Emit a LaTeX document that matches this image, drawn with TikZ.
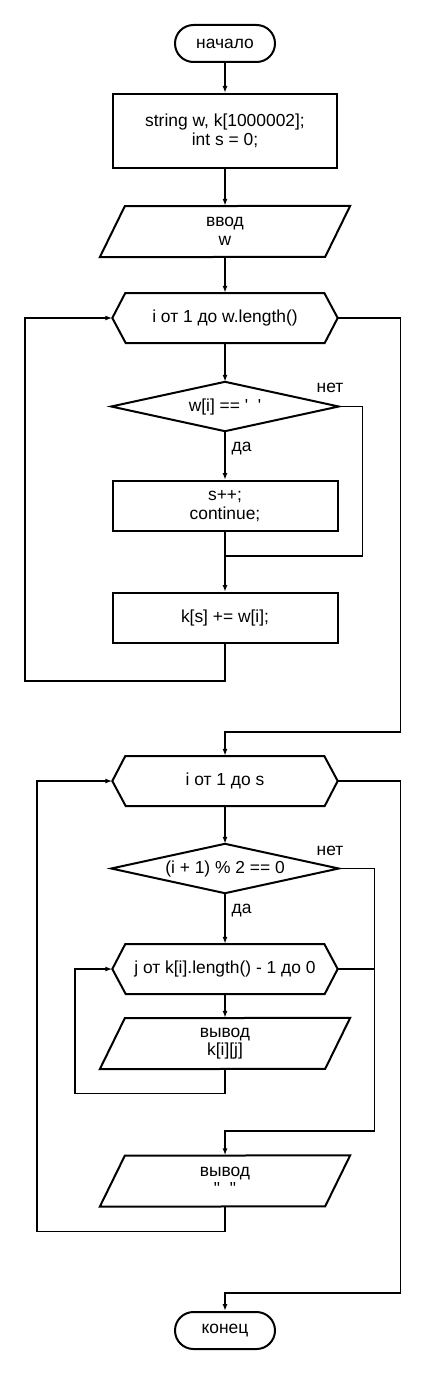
\documentclass[tikz,border=0pt]{standalone}
\usepackage{fontspec}
\setmainfont{Liberation Sans}
\usepackage{tikz}
\usetikzlibrary{arrows.meta}

\tikzset{
  txt/.style={font=\fontsize{17.4}{18.5}\selectfont, align=center, inner sep=0pt},
  term/.style={txt, draw, line width=2pt, rounded corners=18.5pt,
    minimum width=100pt, minimum height=37pt},
  proc/.style={txt, draw, line width=2pt, minimum width=225pt, minimum height=50pt},
  io/.style={txt, minimum width=250pt, minimum height=51pt},
  lim/.style={txt, minimum width=225pt, minimum height=50pt},
  cond/.style={txt, minimum width=227pt, minimum height=49pt},
  shapeline/.style={line width=2pt, line join=miter},
  flow/.style={line width=1.4pt, -{Latex[length=7pt,width=5pt]}},
  link/.style={line width=1.4pt},
  lbl/.style={font=\fontsize{17.4}{18.5}\selectfont, inner sep=0pt}
}

\begin{document}
\begin{tikzpicture}[x=1pt, y=-1pt]
        \useasboundingbox (0,0) rectangle (425,1375);

        \node[term] (start) at (225,43.5) {начало};
        \node[proc, minimum width=224pt, minimum height=74pt]
            (init) at (225,131) {string w, k[1000002];\\int s = 0;};
        \node[io] (inw) at (225,231.5) {ввод\\w};
        \node[lim] (loopa) at (225,318) {i от 1 до w.length()};
        \node[cond] (conda) at (225,406.5)
            {w[i] == \textquotesingle\ \ \textquotesingle};
        \node[proc] (skip) at (225,506) {s++;\\continue;};
        \node[proc] (add) at (225,618) {k[s] += w[i];};
        \node[lim] (loopb) at (225,781) {i от 1 до s};
        \node[cond] (condb) at (225,868.5) {(i + 1) \% 2 == 0};
        \node[lim] (loopc) at (225,969) {j от k[i].length() - 1 до 0};
        \node[io] (outk) at (225,1043.5) {вывод\\k[i][j]};
        \node[io] (outsp) at (225,1181) {вывод\\\textquotedbl\ \ \textquotedbl};
        \node[term] (stop) at (225,1330.5) {конец};

        % outlines
        \foreach \s in {inw,outk,outsp}
            \draw[shapeline] (\s.south west) -- ++(25,-51) -- (\s.north east)
                -- ++(-25,51) -- cycle;
        \foreach \s in {loopa,loopb,loopc}
            \draw[shapeline] (\s.west) -- ++(13,-25) -- ++(199,0) -- (\s.east)
                -- ++(-13,25) -- ++(-199,0) -- cycle;
        \foreach \s in {conda,condb}
            \draw[shapeline] (\s.west) -- (\s.north) -- (\s.east) -- (\s.south) -- cycle;

        \node[lbl, anchor=base] (noa) at (330,392.5) {нет};
        \node[lbl, anchor=base] (nob) at (330,855.5) {нет};

        \coordinate (joina) at (225,556);

        \draw[flow] (start) -- (init);
        \draw[flow] (init) -- (inw);
        \draw[flow] (inw) -- (loopa);
        \draw[flow] (loopa) -- (conda);
        \draw[flow] (conda) -- node[lbl, pos=.35, right=6pt] {да} (skip);
        \draw[link] (conda.east) -- ++(24,0) |- (joina);
        \draw[flow] (skip) -- (add);
        \draw[flow] (add.south) -- ++(0,37) -| (25,318) -- (loopa.west);
        \draw[flow] (loopa.east) -- ++(62.5,0) |- (225,732) -- (loopb.north);

        \draw[flow] (loopb) -- (condb);
        \draw[flow] (condb) -- node[lbl, pos=.35, right=6pt] {да} (loopc);
        \draw[flow] (loopc) -- (outk);
        \draw[flow] (outk.south) -- ++(0,24.5) -| (75,969) -- (loopc.west);
        \draw[flow] (condb.east) -- ++(35.5,0) |- (225,1131) -- (outsp.north);
        \draw[link] (loopc.east) -- ++(36.5,0);
        \draw[flow] (outsp.south) -- ++(0,25) -| (37,781) -- (loopb.west);
        \draw[flow] (loopb.east) -- ++(62.5,0) |- (225,1293) -- (stop.north);
    \end{tikzpicture}
\end{document}
